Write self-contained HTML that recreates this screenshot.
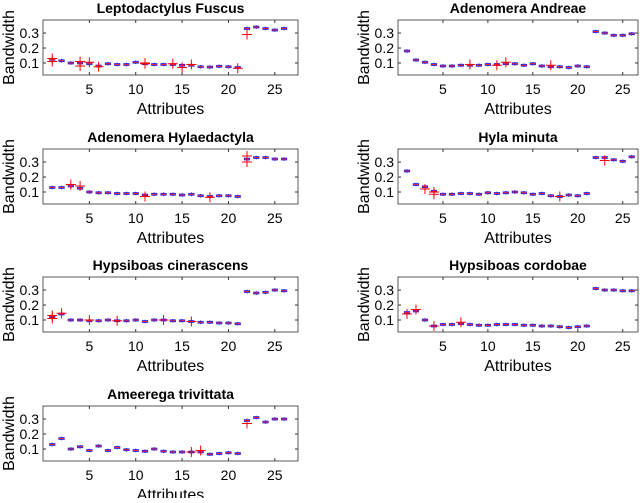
<!DOCTYPE html>
<html><head><meta charset="utf-8"><style>
body{margin:0;background:#fff;width:640px;height:498px;overflow:hidden}
text{font-family:"Liberation Sans",sans-serif}
</style></head><body>
<svg id="fig" width="640" height="498" xmlns="http://www.w3.org/2000/svg"></svg>
<script>
const titles=["Leptodactylus Fuscus","Adenomera Andreae","Adenomera Hylaedactyla","Hyla minuta","Hypsiboas cinerascens","Hypsiboas cordobae","Ameerega trivittata"];
const medians=[
[0.125,0.115,0.1,0.1,0.095,0.08,0.095,0.09,0.09,0.105,0.095,0.09,0.09,0.09,0.085,0.085,0.075,0.073,0.078,0.075,0.07,0.33,0.34,0.33,0.32,0.33],
[0.18,0.12,0.105,0.09,0.08,0.08,0.085,0.085,0.085,0.09,0.09,0.095,0.095,0.085,0.095,0.08,0.075,0.075,0.07,0.08,0.075,0.31,0.30,0.285,0.285,0.295],
[0.13,0.13,0.14,0.125,0.1,0.095,0.095,0.09,0.09,0.09,0.08,0.085,0.085,0.085,0.08,0.085,0.075,0.07,0.075,0.075,0.07,0.32,0.33,0.33,0.32,0.32],
[0.24,0.15,0.135,0.105,0.085,0.085,0.09,0.09,0.085,0.095,0.09,0.095,0.1,0.095,0.085,0.09,0.075,0.07,0.08,0.075,0.09,0.33,0.33,0.315,0.305,0.335],
[0.12,0.14,0.1,0.1,0.095,0.095,0.1,0.095,0.095,0.1,0.09,0.1,0.1,0.095,0.095,0.09,0.085,0.085,0.08,0.08,0.075,0.29,0.28,0.285,0.3,0.295],
[0.15,0.16,0.1,0.06,0.07,0.07,0.075,0.07,0.065,0.065,0.07,0.07,0.07,0.065,0.065,0.06,0.06,0.055,0.05,0.055,0.06,0.31,0.3,0.3,0.295,0.295],
[0.13,0.17,0.1,0.115,0.09,0.12,0.09,0.11,0.095,0.09,0.085,0.1,0.085,0.08,0.08,0.08,0.08,0.065,0.07,0.075,0.07,0.29,0.31,0.28,0.3,0.3]];
const outliers=[
[[1,0.13],[1,0.11],[4,0.11],[4,0.08],[5,0.105],[6,0.075],[11,0.1],[11,0.095],[14,0.095],[15,0.07],[16,0.09],[21,0.065],[22,0.29]],
[[8,0.09],[11,0.085],[12,0.105],[17,0.085]],
[[3,0.15],[4,0.14],[11,0.07],[18,0.065],[22,0.3],[22,0.34]],
[[3,0.12],[4,0.1],[4,0.085],[18,0.07],[23,0.31]],
[[1,0.13],[1,0.11],[2,0.145],[5,0.1],[8,0.095],[13,0.1],[16,0.09]],
[[1,0.14],[2,0.17],[4,0.06],[7,0.085]],
[[16,0.08],[17,0.09],[22,0.27]]];
const xTicks=[5,10,15,20,25];
const yTicks=[0.1,0.2,0.3];
const yTickLabels=["0.1","0.2","0.3"];

const NS="http://www.w3.org/2000/svg";
const svg=document.getElementById('fig');
function mk(tag,attrs,parent){const e=document.createElementNS(NS,tag);for(const k in attrs)e.setAttribute(k,attrs[k]);(parent||svg).appendChild(e);return e;}
const rowTops=[20,149,277,406];
titles.forEach((t,i)=>{
  const col=i%2,row=Math.floor(i/2);
  const X0=col?398:43,W=col?240:255,XMAX=col?26.7:27.5;
  const Y0=rowTops[row],H=55,YMIN=0.02,YMAX=0.387;
  const sx=v=>X0+v/XMAX*W, sy=v=>Y0+H-(v-YMIN)/(YMAX-YMIN)*H;
  const g=mk('g',{});
  
  
  const tt=mk('text',{x:X0+W/2,y:Y0-7,'text-anchor':'middle','font-size':14,'font-weight':'bold'},g);tt.textContent=t;
  
  const bx=mk('rect',{x:X0,y:Y0,width:W,height:H,fill:'none',stroke:'#333','stroke-width':0.8},g);
  
  xTicks.forEach(v=>{const x=sx(v);
    mk('line',{x1:x,x2:x,y1:Y0+H,y2:Y0+H-3,stroke:'#333'},g);mk('line',{x1:x,x2:x,y1:Y0,y2:Y0+3,stroke:'#333'},g);
    const l=mk('text',{x:x,y:Y0+H+19,'text-anchor':'middle','font-size':14},g);l.textContent=v;
    });
  yTicks.forEach((v,k)=>{const y=sy(v);
    mk('line',{x1:X0,x2:X0+3,y1:y,y2:y,stroke:'#333'},g);mk('line',{x1:X0+W,x2:X0+W-3,y1:y,y2:y,stroke:'#333'},g);
    const l=mk('text',{x:X0-4,y:y+5,'text-anchor':'end','font-size':14},g);l.textContent=yTickLabels[k];
    });
  const xl=mk('text',{x:X0+W/2,y:Y0+H+39,'text-anchor':'middle','font-size':16},g);xl.textContent='Attributes';
  
  const yl=mk('text',{x:0,y:0,'text-anchor':'middle','font-size':16,transform:`translate(${X0-29},${Y0+H/2}) rotate(-90)`},g);yl.textContent='Bandwidth';
  
  medians[i].forEach((m,k)=>{const x=sx(k+1);
    const b=mk('g',{},g);
    
    
    mk('line',{x1:x,x2:x,y1:sy(m+0.012),y2:sy(m-0.012),stroke:'#222','stroke-width':1},b);
    mk('rect',{x:x-2.5,y:sy(m+0.005),width:5,height:sy(m-0.005)-sy(m+0.005),fill:'#fff',stroke:'#22f','stroke-width':1.2},b);
    mk('line',{x1:x-2.5,x2:x+2.5,y1:sy(m),y2:sy(m),stroke:'#f22','stroke-width':1},b);
  });
  outliers[i].forEach(o=>{const x=sx(o[0]),y=sy(o[1]);
    const p=mk('path',{d:`M${x-5} ${y}H${x+5}M${x} ${y-5}V${y+5}`,stroke:'#f00','stroke-width':1},g);
    });
});
</script>
</body></html>
